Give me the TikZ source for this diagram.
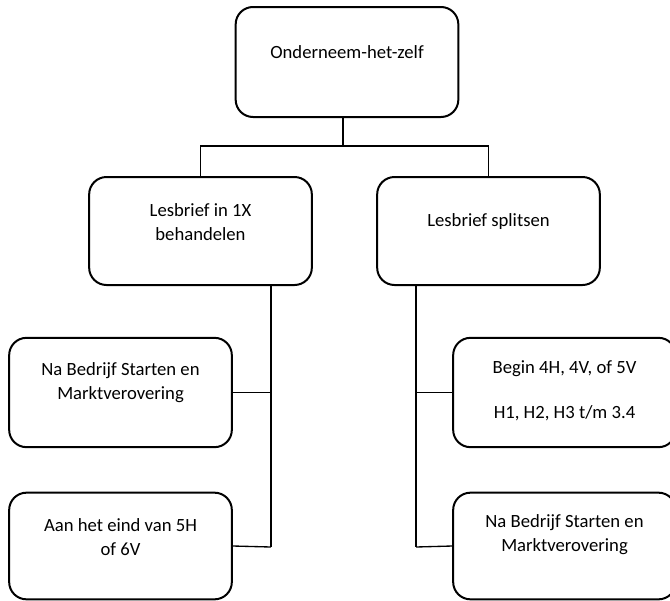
\documentclass[tikz,border=0pt]{standalone}
\usepackage{fontspec}
\setmainfont{Carlito}
\begin{document}
\begin{tikzpicture}[x=0.75pt,y=-0.75pt,
  box/.style={draw, line width=1.5pt, rounded corners=13pt, minimum width=167pt, inner sep=0pt},
  txt/.style={align=center, font=\fontsize{14}{18}\selectfont, inner sep=0pt},
  conn/.style={line width=1pt}]
\clip (0,0) rectangle (670,600);
\fill[white] (0,0) rectangle (670,600);
% boxes
\node[box, minimum height=82.5pt] (top) at (347,62) {};
\node[box, minimum height=81pt] (lm) at (200.5,231) {};
\node[box, minimum height=81pt] (rm) at (488.5,231) {};
\node[box, minimum height=82pt] (bl1) at (120.5,392.5) {};
\node[box, minimum height=80pt] (bl2) at (120.5,546) {};
\node[box, minimum height=82pt] (br1) at (564.5,392.5) {};
\node[box, minimum height=80pt] (br2) at (564.5,546) {};
% texts
\node[txt] (ttop) at ([yshift=7.5pt]top.center) {Onderneem-het-zelf};
\node[txt] (tlm) at ([yshift=7pt]lm.center) {Lesbrief in 1X\\behandelen};
\node[txt] (trm) at ([yshift=7pt]rm.center) {Lesbrief splitsen};
\node[txt] (tbl1) at ([yshift=7.5pt]bl1.center) {Na Bedrijf Starten en\\Marktverovering};
\node[txt] (tbl2) at ([yshift=6.5pt]bl2.center) {Aan het eind van 5H\\of 6V};
\node[txt] (tbr1) at ([yshift=1.5pt]br1.center) {Begin 4H, 4V, of 5V\\[16pt]H1, H2, H3 t/m 3.4};
\node[txt] (tbr2) at ([yshift=8.5pt]br2.center) {Na Bedrijf Starten en\\Marktverovering};
% connectors
\coordinate (j) at (343,146);
\coordinate (lt) at (271,547);
\coordinate (rt) at (416,547);
\draw[conn] (top.south -| j) -- (j);
\draw[conn] (lm.north) |- (j) -| (rm.north);
\draw[conn] (lm.south -| lt) -- (lt);
\draw[conn] (bl1.east) -- (bl1.east -| lt);
\draw[conn] (bl2.east) -- (lt);
\draw[conn] (rm.south -| rt) -- (rt);
\draw[conn] (br1.west) -- (br1.west -| rt);
\draw[conn] (br2.west) -- (rt);
\end{tikzpicture}
\end{document}
